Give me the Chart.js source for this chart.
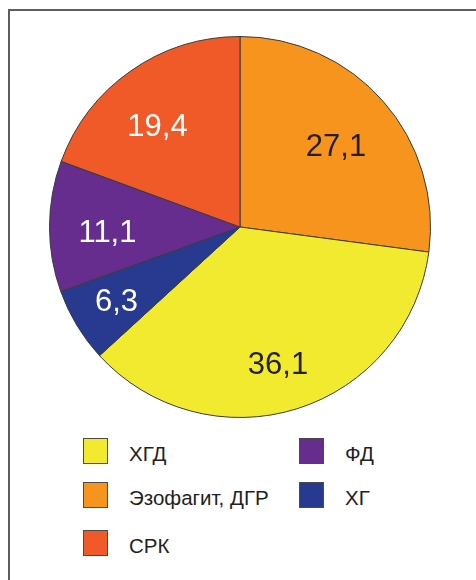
<!DOCTYPE html>
<html>
<head>
<meta charset="utf-8">
<script src="https://cdn.jsdelivr.net/npm/chart.js@4/dist/chart.umd.min.js"></script>
<style>
  html, body { margin: 0; padding: 0; background: #fff; }
  body { width: 476px; height: 580px; position: relative; overflow: hidden; font-family: "Liberation Sans", Arial, sans-serif; }
  #frame { position: absolute; left: 8px; top: 9px; width: 480px; height: 600px; border-left: 2px solid #5e5e5e; border-top: 2px solid #5e5e5e; }
  #pieWrap { position: absolute; left: 49px; top: 36px; width: 382px; height: 382px; }
  .item { position: absolute; height: 25px; display: flex; align-items: center; }
  .box { width: 23px; height: 24px; border: 1px solid #4a4a4a; box-sizing: content-box; }
  .txt { position: absolute; top: 3px; font-size: 20.5px; color: #231f20; white-space: nowrap; line-height: 25px; }
</style>
</head>
<body>
<div id="frame"></div>
<div id="pieWrap"><canvas id="c" width="382" height="382"></canvas></div>
<div id="legend"></div>
<script>
// Data (clockwise from 12 o'clock)
const categories = ["Эзофагит, ДГР", "ХГД", "ХГ", "ФД", "СРК"];
const values = [27.1, 36.1, 6.3, 11.1, 19.4];
const colors = ["#f7941e", "#f2ea2e", "#283a8f", "#662d8f", "#f05a29"];
const labelColors = ["#231f20", "#231f20", "#ffffff", "#ffffff", "#ffffff"];
const legendOrder = ["ХГД", "Эзофагит, ДГР", "СРК", "ФД", "ХГ"];

// layout constants: [radius fraction, angular offset in degrees from slice middle]
const labelPlacement = [[0.663, 0.7], [0.739, 1.8], [0.752, 0.7], [0.696, -1.7], [0.691, -3.9]];
const labelFontSize = 31;
const legendCols = [83, 299];
const legendTextOffset = 46;
const legendRows = [438, 482, 530];

const valueLabels = {
  id: 'valueLabels',
  afterDatasetsDraw(chart) {
    const ctx = chart.ctx;
    const meta = chart.getDatasetMeta(0);
    ctx.save();
    ctx.font = labelFontSize + 'px "Liberation Sans", Arial, sans-serif';
    ctx.textAlign = 'center';
    ctx.textBaseline = 'alphabetic';
    meta.data.forEach((arc, i) => {
      const p = arc.getProps(['x', 'y', 'startAngle', 'endAngle', 'outerRadius'], true);
      const [frac, offDeg] = labelPlacement[i];
      const ang = (p.startAngle + p.endAngle) / 2 + offDeg * Math.PI / 180;
      const r = p.outerRadius * frac;
      ctx.fillStyle = labelColors[i];
      const v = chart.data.datasets[0].data[i];
      const cx = p.x + Math.cos(ang) * r;
      const cy = p.y + Math.sin(ang) * r;
      ctx.fillText(String(v).replace('.', ','), cx, cy + 0.358 * labelFontSize);
    });
    ctx.restore();
  }
};

const chart = new Chart(document.getElementById('c'), {
  type: 'pie',
  data: {
    labels: categories,
    datasets: [{
      data: values,
      backgroundColor: colors,
      borderColor: '#3a3a3a',
      borderWidth: 1,
      borderAlign: 'center'
    }]
  },
  options: {
    responsive: false,
    animation: false,
    layout: { padding: 0 },
    plugins: {
      legend: { display: false },
      tooltip: { enabled: false }
    }
  },
  plugins: [valueLabels]
});

// HTML legend built from chart's legend items
const items = chart.options.plugins.legend.labels.generateLabels(chart);
const legendEl = document.getElementById('legend');
legendOrder.forEach((name, k) => {
  const it = items.find(x => x.text === name);
  const col = Math.floor(k / legendRows.length);
  const row = k % legendRows.length;
  const div = document.createElement('div');
  div.className = 'item';
  div.style.left = legendCols[col] + 'px';
  div.style.top = legendRows[row] + 'px';
  const box = document.createElement('div');
  box.className = 'box';
  box.style.background = it ? it.fillStyle : colors[categories.indexOf(name)];
  const txt = document.createElement('span');
  txt.className = 'txt';
  txt.style.left = legendTextOffset + 'px';
  txt.textContent = name;
  div.appendChild(box);
  div.appendChild(txt);
  legendEl.appendChild(div);
});
</script>
</body>
</html>
